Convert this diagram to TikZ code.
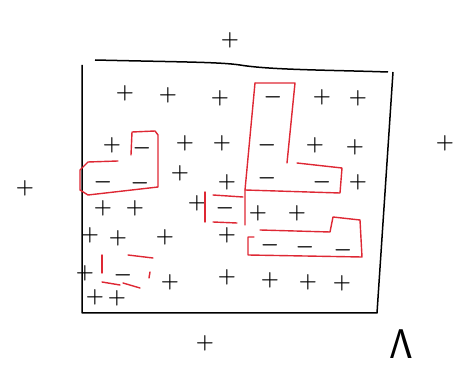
\documentclass[tikz,border=0pt]{standalone}
\usepackage{tikz}

\definecolor{sketchred}{RGB}{222,40,52}
\tikzset{
  plus/.style={inner sep=0pt,font=\fontsize{22}{24}\selectfont\boldmath},
  minus/.style={inner sep=0pt,font=\fontsize{22}{24}\selectfont\boldmath},
  redline/.style={draw=sketchred,line width=1.4pt,line join=round,line cap=round}
}

\begin{document}
\begin{tikzpicture}[x=1pt,y=-1pt]
  % cadre de la figure
  \useasboundingbox (0,0) rectangle (469,382);

  % grand rectangle (trace a main levee)
  \draw[line width=1.5pt,line join=round] (95,60) .. controls (180,62) and (220,62) .. (240,65)
     .. controls (270,70) and (330,70) .. (388,72)
     (393,72) -- (377,313) -- (82,313) -- (82,65);

  % signes a l'exterieur
  \node[plus] (top) at (230,40) {$+$};
  \node[plus] (left) at (25,188) {$+$};
  \node[plus] (right) at (445,143) {$+$};
  \node[plus] (bottom) at (205,343) {$+$};
  \node[inner sep=0pt,scale=2,font=\fontsize{20}{22}\selectfont] (lam) at (401,344) {$\mathsf{\Lambda}$};

  % les plus
  \foreach \x/\y [count=\i] in {125/93,168/95,220/98,322/97,358/98,
      112/145,185/143,222/143,315/145,355/147,
      180/173,227/182,358/182,
      103/208,135/208,197/203,258/213,297/213,
      90/235,118/238,165/237,227/235,
      85/273,170/282,227/277,270/280,308/282,342/283,
      95/297,117/298}
    \node[plus] (p\i) at (\x,\y) {$+$};

  % les moins
  \foreach \x/\y [count=\i] in {273/97,142/148,267/145,
      103/182,140/183,267/178,322/182,
      225/208,270/245,305/247,343/250,123/275}
    \node[minus] (m\i) at (\x,\y) {$-$};

  % region A : L de gauche
  \draw[redline] (118,161) -- (88,162) -- (80,170) -- (80,190) -- (88,195)
     -- (158,187) -- (158,135) -- (155,131) -- (132,132) -- (131,155);

  % region B : grand L
  \draw[redline] (255,83) -- (295,83) -- (287,163);
  \draw[redline] (297,163) -- (342,168) -- (340,193) -- (245,190);
  \draw[redline] (255,83) -- (245,190) -- (245,225);

  % region C : petite case
  \draw[redline] (205,192) -- (205,222);
  \draw[redline] (213,195) -- (243,197);
  \draw[redline] (213,222) -- (237,223);

  % region D : en bas a droite
  \draw[redline] (260,230) -- (330,232) -- (333,217) -- (360,220) -- (362,257)
     -- (248,255) -- (248,237) -- (254,237);

  % region E : en bas a gauche
  \draw[redline] (102,255) -- (102,273);
  \draw[redline] (128,255) -- (153,258);
  \draw[redline] (150,272) -- (149,278);
  \draw[redline] (102,282) -- (120,285);
  \draw[redline] (123,283) -- (140,288);
\end{tikzpicture}
\end{document}
